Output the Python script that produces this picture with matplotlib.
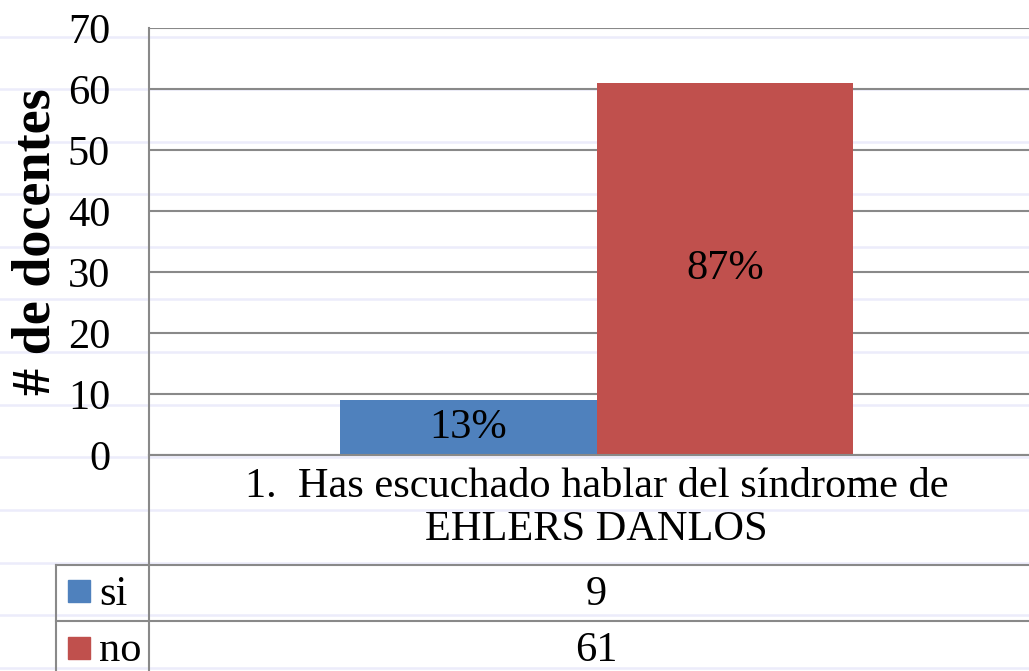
import numpy as np
import matplotlib
matplotlib.use("Agg")
import matplotlib.pyplot as plt
from matplotlib.lines import Line2D
from matplotlib.patches import Rectangle
from matplotlib import transforms

# data
category = ["1.  Has escuchado hablar del síndrome de", "EHLERS DANLOS"]
series = ["si", "no"]
values = [9, 61]
pct_labels = ["13%", "87%"]
colors = ["#4F81BD", "#C0504D"]
yticks = [0, 10, 20, 30, 40, 50, 60, 70]

plt.rcParams['font.family'] = ['Liberation Serif', 'DejaVu Serif']
FS = 30.5
W, H = 1029, 671
grey = "#898989"

fig = plt.figure(figsize=(W / 100, H / 100), dpi=100)
fig.patch.set_facecolor("white")

def fx(px):
    return px / W

def fy(py):
    return 1 - py / H

# faint ruled lines behind the chart
for y in np.arange(36.5, H, 52.6):
    fig.add_artist(Line2D([0, 1], [fy(y), fy(y)], transform=fig.transFigure,
                          color="#ECECFB", lw=1.8, zorder=-1))

ax = fig.add_axes([fx(149), fy(455), fx(895), (455 - 28) / H])
ax.set_facecolor("none")
ax.set_xlim(-0.5, 0.5)
ax.set_ylim(0, 70)

bw = 0.287
for i, (v, c, lab) in enumerate(zip(values, colors, pct_labels)):
    xpos = (i - 0.5) * bw
    ax.bar(xpos, v, width=bw, color=c, zorder=2)
    ax.text(xpos, v / 2, lab, ha="center", va="center", fontsize=FS, zorder=3)

ax.set_yticks(yticks)
ax.yaxis.grid(True, color=grey, lw=1.5)
ax.set_axisbelow(True)
ax.set_xticks([])
ax.tick_params(axis="y", length=0, pad=28, labelsize=FS)
for s in ["top", "right"]:
    ax.spines[s].set_visible(False)
for s in ["left", "bottom"]:
    ax.spines[s].set_color(grey)
    ax.spines[s].set_linewidth(1.5)

fig.text(fx(37), fy(242), "# de docentes", rotation=90, ha="center", va="center",
         fontsize=39, fontweight="bold")

# data table below the axis
def hline(y, x0, x1=W + 50):
    fig.add_artist(Line2D([fx(x0), fx(x1)], [fy(y), fy(y)], transform=fig.transFigure,
                          color=grey, lw=1.5, zorder=3))

def vline(x, y0, y1):
    fig.add_artist(Line2D([fx(x), fx(x)], [fy(y0), fy(y1)], transform=fig.transFigure,
                          color=grey, lw=1.5, zorder=3))

vline(149, 455, H + 10)
vline(55.5, 565, H + 10)
hline(565, 55.5)
hline(621, 55.5)

tr = transforms.blended_transform_factory(ax.transData, fig.transFigure)
for line, yb in zip(category, [497, 540]):
    fig.text(0, fy(yb), line, transform=tr, ha="center", va="baseline", fontsize=FS)

row_base = [605, 661]
row_top = [580, 637]
for name, v, c, yb, yt in zip(series, values, colors, row_base, row_top):
    fig.add_artist(Rectangle((fx(68), fy(yt + 22)), fx(22), 22 / H,
                             transform=fig.transFigure, color=c, zorder=3))
    fig.text(fx(99), fy(yb), name, ha="left", va="baseline", fontsize=FS)
    fig.text(0, fy(yb), str(v), transform=tr, ha="center", va="baseline", fontsize=FS)

fig.savefig("out.png", dpi=100)
